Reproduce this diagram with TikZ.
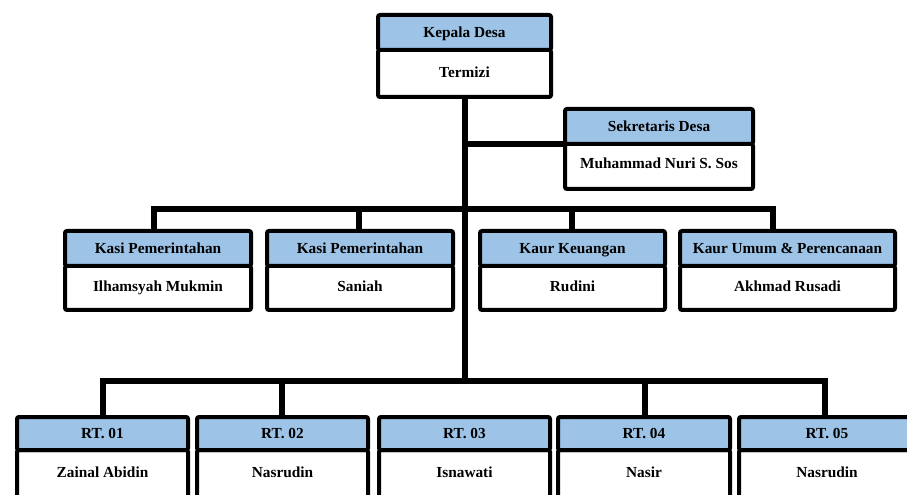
\documentclass[tikz,border=0pt]{standalone}
\usepackage{fontspec}
\setmainfont{Liberation Serif}
\definecolor{hdrblue}{RGB}{157,195,230}
\newcommand\orgbox[9]{%
 \node[bodybox, minimum width={(#3-#2-4)*0.75pt}, minimum height={(#6-2-#5)*0.75pt}] (#1b) at ({(#2+#3)/2},{(#5+#6-2)/2}) {};
 \node[hdr, minimum width={(#3-#2-4)*0.75pt}, minimum height={(#5-#4-2)*0.75pt}] (#1h) at ({(#2+#3)/2},{(#4+2+#5)/2}) {#8};
 \node[txt] (#1t) at ({(#2+#3)/2},{#7+2}) {#9};
}
\begin{document}
\begin{tikzpicture}[x=0.75pt,y=-0.75pt,
 txt/.style={font=\bfseries\fontsize{11.5}{13}\selectfont, inner sep=0pt, text height=8pt, text depth=2.5pt},
 hdr/.style={draw=black, fill=hdrblue, line width=3pt, rounded corners=1.5pt, inner sep=0pt, txt, text height=9.5pt},
 bodybox/.style={draw=black, fill=white, line width=3pt, rounded corners=1.5pt, inner sep=0pt},
 conn/.style={line width=4pt, line join=miter}]
\useasboundingbox (0,0) rectangle (907,495);
\clip (0,0) rectangle (907,495);
% junction coordinates
\coordinate (d1) at (154,209);
\coordinate (d2) at (359,209);
\coordinate (d3) at (572,209);
\coordinate (d4) at (773,209);
\coordinate (e1) at (103,381);
\coordinate (e5) at (825,381);
\coordinate (top) at (465,99);
\coordinate (r3) at (465,381);
\coordinate (sj) at (465,144);
% connectors
\draw[conn] (top) -- (r3);
\draw[conn] (sj) -- (565,144) coordinate (skend);
\draw[conn] (d1 |- 0,231) coordinate (d1b) -- (d1) -- (d4) -- (d4 |- 0,231) coordinate (d4b);
\draw[conn] (d2) -- (d2 |- d1b);
\draw[conn] (d3) -- (d3 |- d1b);
\draw[conn] (e1 |- 0,417) coordinate (e1b) -- (e1) -- (e5) -- (e5 |- e1b);
\draw[conn] (282,381) coordinate (e2) -- (e2 |- e1b);
\draw[conn] (645,381) coordinate (e4) -- (e4 |- e1b);
% boxes
\orgbox{kd}{376}{553}{13}{50}{99}{72}{Kepala Desa}{Termizi}
\orgbox{sk}{563}{755}{107}{144}{191}{163}{Sekretaris Desa}{Muhammad Nuri S. Sos}
\orgbox{ka}{63}{253}{229}{266}{312}{286}{Kasi Pemerintahan}{Ilhamsyah Mukmin}
\orgbox{kb}{265}{455}{229}{266}{312}{286}{Kasi Pemerintahan}{Saniah}
\orgbox{kc}{478}{667}{229}{266}{312}{286}{Kaur Keuangan}{Rudini}
\orgbox{ke}{678}{897}{229}{266}{312}{286}{Kaur Umum \& Perencanaan}{Akhmad Rusadi}
\orgbox{ra}{15}{190}{415}{450}{520}{472}{RT. 01}{Zainal Abidin}
\orgbox{rb}{195}{370}{415}{450}{520}{472}{RT. 02}{Nasrudin}
\orgbox{rc}{377}{552}{415}{450}{520}{472}{RT. 03}{Isnawati}
\orgbox{rd}{556}{732}{415}{450}{520}{472}{RT. 04}{Nasir}
\orgbox{re}{737}{917}{415}{450}{520}{472}{RT. 05}{Nasrudin}
\end{tikzpicture}
\end{document}
